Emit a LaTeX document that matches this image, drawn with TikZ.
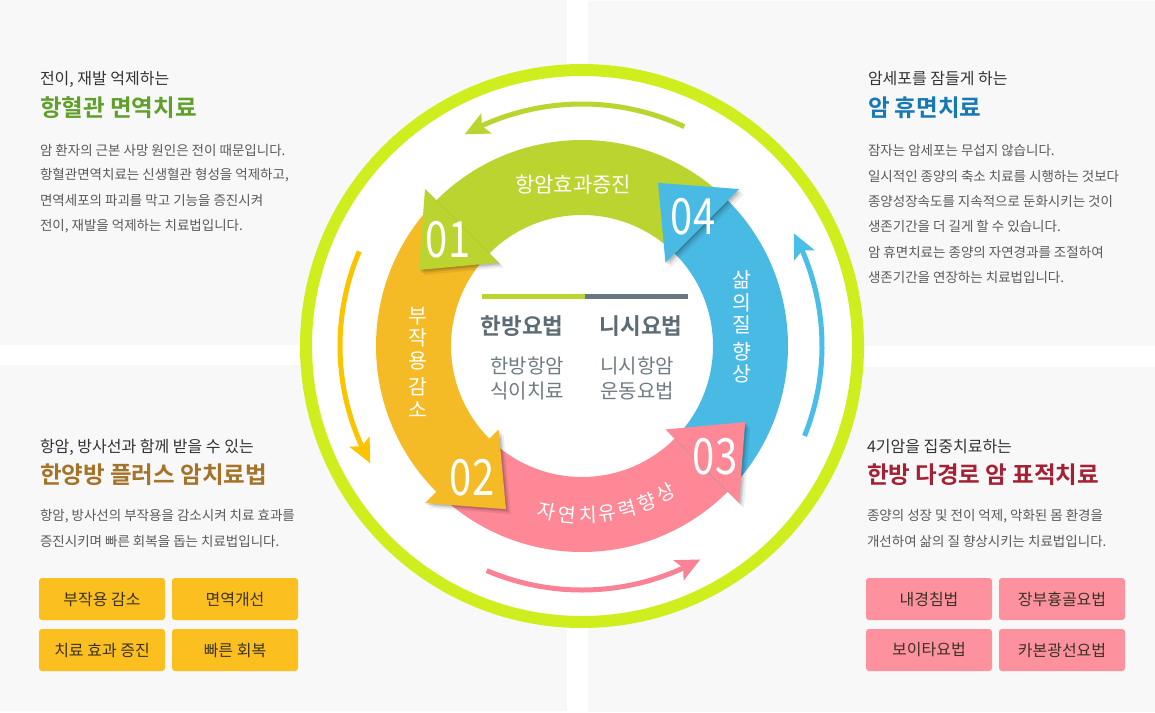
\documentclass[tikz,border=0pt]{standalone}
\usepackage{fontspec}
\setmainfont{Noto Sans CJK KR}[BoldFont={Noto Sans CJK KR Bold}]
\usepackage{graphicx}
\usetikzlibrary{arrows.meta,bending}
\definecolor{panelgray}{RGB}{248,248,248}
\definecolor{ringlime}{RGB}{208,238,30}
\definecolor{bandgreen}{RGB}{188,212,48}
\definecolor{bandorange}{RGB}{244,187,38}
\definecolor{bandpink}{RGB}{255,136,150}
\definecolor{bandblue}{RGB}{72,186,228}
\definecolor{thinorange}{RGB}{250,196,0}
\definecolor{thinpink}{RGB}{250,130,150}
\definecolor{thinblue}{RGB}{72,190,232}
\definecolor{leadtext}{RGB}{51,51,51}
\definecolor{bodytext}{RGB}{90,90,90}
\definecolor{titlegreen}{RGB}{96,160,42}
\definecolor{titleblue}{RGB}{22,120,180}
\definecolor{titlebrown}{RGB}{165,115,40}
\definecolor{titlered}{RGB}{165,32,52}
\definecolor{tagorange}{RGB}{251,192,32}
\definecolor{tagpink}{RGB}{253,146,158}
\definecolor{tagtext}{RGB}{60,50,35}
\definecolor{hubbold}{RGB}{93,108,116}
\definecolor{hubtext}{RGB}{112,124,132}
\definecolor{hubgray}{RGB}{105,120,128}
\newcommand{\stepnum}[1]{\scalebox{.8}[1]{#1}}
\begin{document}
\begin{tikzpicture}[x=1pt,y=-1pt,
  panel/.style={fill=panelgray,draw=none},
  lead/.style={inner sep=0pt,outer sep=0pt,anchor=west,text=leadtext,font=\fontsize{16}{19}\selectfont},
  headline/.style={inner sep=0pt,outer sep=0pt,anchor=west,font=\bfseries\fontsize{23.5}{28}\selectfont},
  body/.style={inner sep=0pt,outer sep=0pt,anchor=west,text=bodytext,font=\fontsize{13.5}{16}\selectfont},
  tag/.style={rounded corners=3pt,minimum width=126pt,minimum height=42pt,inner sep=0pt,text=tagtext,font=\fontsize{16}{19}\selectfont},
  bandtext/.style={inner sep=0pt,text=white,font=\fontsize{21}{24}\selectfont},
  stacktext/.style={inner sep=0pt,text=white,align=center,font=\fontsize{20.5}{22.5}\selectfont},
  stepno/.style={inner sep=0pt,text=white,font=\fontsize{50}{50}\selectfont},
  hubhead/.style={inner sep=0pt,text=hubbold,font=\bfseries\fontsize{22.5}{26}\selectfont},
  hubline/.style={inner sep=0pt,text=hubtext,font=\fontsize{20}{24}\selectfont},
  thinarc/.style={line width=5pt,-{Stealth[length=24pt,width=22pt,inset=5pt]}}]
\path[use as bounding box] (0,0) rectangle (1155,712);
\path[fill=white] (0,0) rectangle (1155,712);
% panels
\path[panel] (0,0) rectangle (567,345);
\path[panel] (588,1) rectangle (1155,346);
\path[panel] (0,365) rectangle (567,711);
\path[panel] (588,367) rectangle (1155,712);

% cycle
\begin{scope}[shift={(582,346)},yscale=-1]
\fill[white] (0,0) circle (282);
\draw[ringlime,line width=12pt] (0,0) circle (276);
\draw[thinarc,draw=bandgreen] (65:242) arc[start angle=65,end angle=119,radius=242];
\draw[thinarc,draw=thinorange] (157:242) arc[start angle=157,end angle=209,radius=242];
\draw[thinarc,draw=thinpink] (247:244) arc[start angle=247,end angle=299,radius=244];
\draw[thinarc,draw=thinblue] (-22:240) arc[start angle=-22,end angle=28,radius=240];
\foreach \from/\col in {45/bandgreen,135/bandorange,225/bandpink,315/bandblue}
  \fill[\col] (\from:131) arc[start angle=\from,end angle=\from+90,radius=131]
    -- ({\from+90}:206) arc[start angle=\from+90,end angle=\from,radius=206] -- cycle;
\foreach \base/\col in {135/bandgreen,225/bandorange,315/bandpink,45/bandblue}{
  \foreach \d/\op in {5/.07,3/.1,1.5/.12}
    \fill[black,opacity=\op,shift={(\d,-\d)}] (\base:206) -- (\base:222) -- ({\base+20}:180)
      -- (\base:118) -- (\base:131) -- cycle;
  \fill[\col] (\base:206) -- (\base:222) -- ({\base+20}:180)
    -- (\base:118) -- (\base:131) -- cycle;
}
\end{scope}

\node[stepno] (no01) at (448,240) {\stepnum{01}};
\node[stepno] (no02) at (472,478) {\stepnum{02}};
\node[stepno] (no03) at (715,457) {\stepnum{03}};
\node[stepno] (no04) at (693,217) {\stepnum{04}};
\node[bandtext] (bandA) at (573,185) {항암효과증진};
\node[stacktext] (bandB) at (418,362) {부\\작\\용\\[4pt]감\\소};
\node[stacktext] (bandD) at (742,327) {삶\\의\\질\\[4pt]향\\상};
\foreach \ch/\ang [count=\i] in {자/258,연/265,치/272,유/278.5,력/285.5,향/292.6,상/299.8}
  \node[bandtext,font=\fontsize{19.5}{24}\selectfont,rotate={\ang+90-360}] (bandC\i)
    at ({582+169*cos(\ang)},{346-169*sin(\ang)}) {\ch};

% hub
\draw[bandgreen,line width=5pt] (482,296) -- (585,296);
\draw[hubgray,line width=5pt] (585,296) -- (688,296);
\node[hubhead] (hubL) at (522,326) {한방요법};
\node[hubhead] (hubR) at (641,326) {니시요법};
\node[hubline] (hubL1) at (527,366) {한방항암};
\node[hubline] (hubL2) at (527,391) {식이치료};
\node[hubline] (hubR1) at (637,366) {니시항암};
\node[hubline] (hubR2) at (637,391) {운동요법};

% top left
\node[lead] (tlLead) at (40,79) {전이, 재발 억제하는};
\node[headline,text=titlegreen] (tlTitle) at (40,108) {항혈관 면역치료};
\node[body] (tlB1) at (40,150) {암 환자의 근본 사망 원인은 전이 때문입니다.};
\node[body] (tlB2) at (40,175) {항혈관면역치료는 신생혈관 형성을 억제하고,};
\node[body] (tlB3) at (40,200) {면역세포의 파괴를 막고 기능을 증진시켜};
\node[body] (tlB4) at (40,226) {전이, 재발을 억제하는 치료법입니다.};

% top right
\node[lead] (trLead) at (868,79) {암세포를 잠들게 하는};
\node[headline,text=titleblue] (trTitle) at (868,108) {암 휴면치료};
\node[body] (trB1) at (868,150) {잠자는 암세포는 무섭지 않습니다.};
\node[body] (trB2) at (868,176) {일시적인 종양의 축소 치료를 시행하는 것보다};
\node[body] (trB3) at (868,201) {종양성장속도를 지속적으로 둔화시키는 것이};
\node[body] (trB4) at (868,226) {생존기간을 더 길게 할 수 있습니다.};
\node[body] (trB5) at (868,252) {암 휴면치료는 종양의 자연경과를 조절하여};
\node[body] (trB6) at (868,277) {생존기간을 연장하는 치료법입니다.};

% bottom left
\node[lead] (blLead) at (40,447) {항암, 방사선과 함께 받을 수 있는};
\node[headline,text=titlebrown] (blTitle) at (40,475) {한양방 플러스 암치료법};
\node[body] (blB1) at (40,516) {항암, 방사선의 부작용을 감소시켜 치료 효과를};
\node[body] (blB2) at (40,541) {증진시키며 빠른 회복을 돕는 치료법입니다.};
\node[tag,fill=tagorange] (blTag1) at (102,599) {부작용 감소};
\node[tag,fill=tagorange] (blTag2) at (235,599) {면역개선};
\node[tag,fill=tagorange] (blTag3) at (102,650) {치료 효과 증진};
\node[tag,fill=tagorange] (blTag4) at (235,650) {빠른 회복};

% bottom right
\node[lead] (brLead) at (867,447) {4기암을 집중치료하는};
\node[headline,text=titlered] (brTitle) at (867,475) {한방 다경로 암 표적치료};
\node[body] (brB1) at (867,516) {종양의 성장 및 전이 억제, 악화된 몸 환경을};
\node[body] (brB2) at (867,541) {개선하여 삶의 질 향상시키는 치료법입니다.};
\node[tag,fill=tagpink] (brTag1) at (929,599) {내경침법};
\node[tag,fill=tagpink] (brTag2) at (1062,599) {장부흉골요법};
\node[tag,fill=tagpink] (brTag3) at (929,650) {보이타요법};
\node[tag,fill=tagpink] (brTag4) at (1062,650) {카본광선요법};
\end{tikzpicture}
\end{document}
